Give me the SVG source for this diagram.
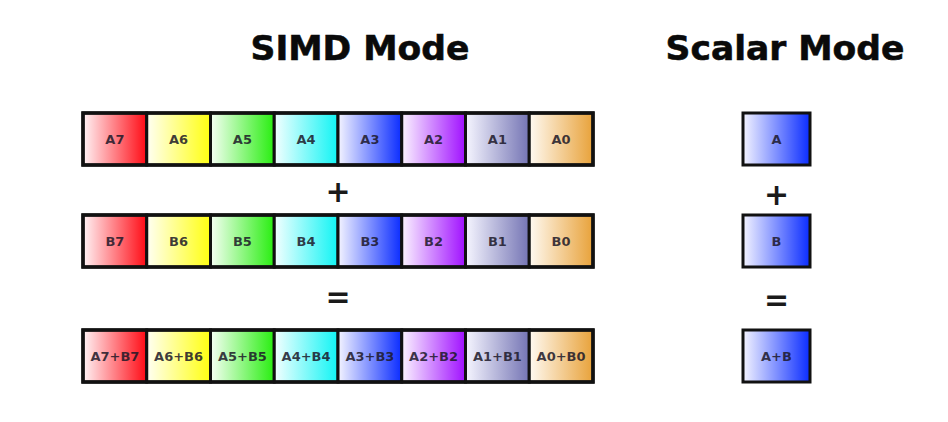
<svg xmlns="http://www.w3.org/2000/svg" width="948" height="422" viewBox="0 0 948 422">
<defs>
<linearGradient id="gR" x1="0" x2="1" y1="0" y2="0"><stop offset="0" stop-color="#fff4f6"/><stop offset="1" stop-color="#ff0a14"/></linearGradient>
<linearGradient id="gY" x1="0" x2="1" y1="0" y2="0"><stop offset="0" stop-color="#fffff4"/><stop offset="1" stop-color="#ffff10"/></linearGradient>
<linearGradient id="gG" x1="0" x2="1" y1="0" y2="0"><stop offset="0" stop-color="#f6fff4"/><stop offset="1" stop-color="#28ee10"/></linearGradient>
<linearGradient id="gC" x1="0" x2="1" y1="0" y2="0"><stop offset="0" stop-color="#f4ffff"/><stop offset="1" stop-color="#10f4f4"/></linearGradient>
<linearGradient id="gB" x1="0" x2="1" y1="0" y2="0"><stop offset="0" stop-color="#f4f4ff"/><stop offset="1" stop-color="#0a2cff"/></linearGradient>
<linearGradient id="gP" x1="0" x2="1" y1="0" y2="0"><stop offset="0" stop-color="#fbf4ff"/><stop offset="1" stop-color="#a010ff"/></linearGradient>
<linearGradient id="gS" x1="0" x2="1" y1="0" y2="0"><stop offset="0" stop-color="#f6f6ff"/><stop offset="1" stop-color="#7474b4"/></linearGradient>
<linearGradient id="gO" x1="0" x2="1" y1="0" y2="0"><stop offset="0" stop-color="#fffaf2"/><stop offset="1" stop-color="#e8a23a"/></linearGradient>
</defs>
<style>
.title{font-family:"DejaVu Sans",sans-serif;font-weight:bold;font-size:34.5px;fill:#0a0a0a;stroke:#0a0a0a;stroke-width:0.6;text-anchor:middle}
.cell{stroke:#111;stroke-width:3}
.frame{fill:none;stroke:#111;stroke-width:3.5}
.lbl{font-family:"DejaVu Sans",sans-serif;font-weight:bold;font-size:13px;fill:#1c1828;fill-opacity:0.85;text-anchor:middle;dominant-baseline:central}
.op{font-family:"DejaVu Sans",sans-serif;font-weight:bold;font-size:30px;fill:#1a1a1a;text-anchor:middle;dominant-baseline:central}
</style>
<rect width="948" height="422" fill="#ffffff"/>
<g id="title-simd"><text class="title" x="360" y="60">SIMD Mode</text></g>
<g id="title-scalar"><text class="title" x="785" y="60">Scalar Mode</text></g>

<g id="rowA">
<g id="A7"><rect class="cell" x="83" y="113" width="63.75" height="52" fill="url(#gR)"/><text class="lbl" x="114.9" y="139.5">A7</text></g>
<g id="A6"><rect class="cell" x="146.75" y="113" width="63.75" height="52" fill="url(#gY)"/><text class="lbl" x="178.6" y="139.5">A6</text></g>
<g id="A5"><rect class="cell" x="210.5" y="113" width="63.75" height="52" fill="url(#gG)"/><text class="lbl" x="242.4" y="139.5">A5</text></g>
<g id="A4"><rect class="cell" x="274.25" y="113" width="63.75" height="52" fill="url(#gC)"/><text class="lbl" x="306.1" y="139.5">A4</text></g>
<g id="A3"><rect class="cell" x="338" y="113" width="63.75" height="52" fill="url(#gB)"/><text class="lbl" x="369.9" y="139.5">A3</text></g>
<g id="A2"><rect class="cell" x="401.75" y="113" width="63.75" height="52" fill="url(#gP)"/><text class="lbl" x="433.6" y="139.5">A2</text></g>
<g id="A1"><rect class="cell" x="465.5" y="113" width="63.75" height="52" fill="url(#gS)"/><text class="lbl" x="497.4" y="139.5">A1</text></g>
<g id="A0"><rect class="cell" x="529.25" y="113" width="63.75" height="52" fill="url(#gO)"/><text class="lbl" x="561.1" y="139.5">A0</text></g>
<rect class="frame" x="83" y="113" width="510" height="52"/>
</g>

<g id="rowB">
<g id="B7"><rect class="cell" x="83" y="215" width="63.75" height="52" fill="url(#gR)"/><text class="lbl" x="114.9" y="241.5">B7</text></g>
<g id="B6"><rect class="cell" x="146.75" y="215" width="63.75" height="52" fill="url(#gY)"/><text class="lbl" x="178.6" y="241.5">B6</text></g>
<g id="B5"><rect class="cell" x="210.5" y="215" width="63.75" height="52" fill="url(#gG)"/><text class="lbl" x="242.4" y="241.5">B5</text></g>
<g id="B4"><rect class="cell" x="274.25" y="215" width="63.75" height="52" fill="url(#gC)"/><text class="lbl" x="306.1" y="241.5">B4</text></g>
<g id="B3"><rect class="cell" x="338" y="215" width="63.75" height="52" fill="url(#gB)"/><text class="lbl" x="369.9" y="241.5">B3</text></g>
<g id="B2"><rect class="cell" x="401.75" y="215" width="63.75" height="52" fill="url(#gP)"/><text class="lbl" x="433.6" y="241.5">B2</text></g>
<g id="B1"><rect class="cell" x="465.5" y="215" width="63.75" height="52" fill="url(#gS)"/><text class="lbl" x="497.4" y="241.5">B1</text></g>
<g id="B0"><rect class="cell" x="529.25" y="215" width="63.75" height="52" fill="url(#gO)"/><text class="lbl" x="561.1" y="241.5">B0</text></g>
<rect class="frame" x="83" y="215" width="510" height="52"/>
</g>

<g id="rowSum">
<g id="S7"><rect class="cell" x="83" y="330" width="63.75" height="52" fill="url(#gR)"/><text class="lbl" x="114.9" y="356.5">A7+B7</text></g>
<g id="S6"><rect class="cell" x="146.75" y="330" width="63.75" height="52" fill="url(#gY)"/><text class="lbl" x="178.6" y="356.5">A6+B6</text></g>
<g id="S5"><rect class="cell" x="210.5" y="330" width="63.75" height="52" fill="url(#gG)"/><text class="lbl" x="242.4" y="356.5">A5+B5</text></g>
<g id="S4"><rect class="cell" x="274.25" y="330" width="63.75" height="52" fill="url(#gC)"/><text class="lbl" x="306.1" y="356.5">A4+B4</text></g>
<g id="S3"><rect class="cell" x="338" y="330" width="63.75" height="52" fill="url(#gB)"/><text class="lbl" x="369.9" y="356.5">A3+B3</text></g>
<g id="S2"><rect class="cell" x="401.75" y="330" width="63.75" height="52" fill="url(#gP)"/><text class="lbl" x="433.6" y="356.5">A2+B2</text></g>
<g id="S1"><rect class="cell" x="465.5" y="330" width="63.75" height="52" fill="url(#gS)"/><text class="lbl" x="497.4" y="356.5">A1+B1</text></g>
<g id="S0"><rect class="cell" x="529.25" y="330" width="63.75" height="52" fill="url(#gO)"/><text class="lbl" x="561.1" y="356.5">A0+B0</text></g>
<rect class="frame" x="83" y="330" width="510" height="52"/>
</g>

<g id="ops-simd">
<text class="op" x="338" y="191">+</text>
<text class="op" x="338" y="296">=</text>
</g>

<g id="scalarA"><rect class="cell" x="743" y="113" width="67" height="52" fill="url(#gB)" stroke-width="3.5"/><text class="lbl" x="776.5" y="139.5">A</text></g>
<g id="scalarB"><rect class="cell" x="743" y="215" width="67" height="52" fill="url(#gB)" stroke-width="3.5"/><text class="lbl" x="776.5" y="241.5">B</text></g>
<g id="scalarSum"><rect class="cell" x="743" y="330" width="67" height="52" fill="url(#gB)" stroke-width="3.5"/><text class="lbl" x="776.5" y="356.5">A+B</text></g>

<g id="ops-scalar">
<text class="op" x="776.5" y="194">+</text>
<text class="op" x="776.5" y="299">=</text>
</g>
</svg>
